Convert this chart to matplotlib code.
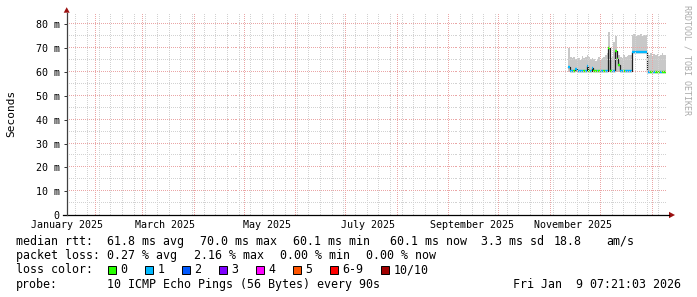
import matplotlib
matplotlib.use('Agg')
import matplotlib.pyplot as plt
import matplotlib.dates as mdates
import numpy as np
from matplotlib.ticker import MultipleLocator, FuncFormatter, NullFormatter
from matplotlib.patches import Rectangle, Polygon
from matplotlib.lines import Line2D
from datetime import datetime, timedelta

W, H = 697, 297
MONO = 'DejaVu Sans Mono'

# Daten: ein Wert pro Tag ab 12.11.2025 (Millisekunden)
first_day = datetime(2025, 11, 12)
graph_end = datetime(2026, 1, 9, 7, 21, 3)
graph_start = datetime(2025, 1, 14, 18, 0)

median_ms = [62.0, 60.3, 60.3, 60.3, 61.5, 60.3, 60.3, 60.3, 60.3, 60.3,
             60.3, 62.5, 60.3, 60.3, 61.8, 60.3, 60.3, 60.3, 60.3, 60.3,
             60.3, 60.3, 60.3, 60.3, 70.0, 60.3, 60.3, 60.3, 68.8, 65.5,
             63.0, 60.3, 60.3, 60.3, 60.3, 60.3, 60.3, 60.3,
             68.6, 68.6, 68.6, 68.6, 68.6, 68.6, 68.6, 68.6, 68.6,
             60.2, 60.2, 60.2, 60.2, 60.2, 60.2, 60.2, 60.2, 60.2, 60.2, 60.2]
loss_cnt = [1, 1, 1, 0, 1, 1, 1, 1, 1, 0,
            1, 1, 0, 1, 1, 0, 0, 1, 0, 1,
            1, 0, 1, 1, 0, 0, 1, 1, 0, 0,
            0, 1, 1, 0, 1, 1, 1, 1,
            1, 1, 1, 1, 1, 1, 1, 1, 1,
            1, 1, 0, 0, 1, 0, 0, 0, 1, 0, 0]
smoke_hi = [70.0, 66.5, 65.8, 66.2, 65.5, 65.0, 66.0, 65.2, 66.8, 65.8,
            66.2, 67.0, 66.4, 65.5, 66.0, 65.3, 64.8, 65.6, 66.5, 65.2,
            65.8, 66.3, 67.0, 68.0, 77.0, 66.0, 66.5, 72.5, 75.0, 69.0,
            67.0, 66.5, 66.0, 67.0, 66.2, 66.8, 67.2, 67.0,
            75.5, 75.8, 75.2, 75.6, 75.4, 75.8, 75.3, 75.5, 75.6,
            67.5, 67.2, 67.8, 66.8, 67.4, 67.0, 67.6, 66.9, 67.3, 67.8, 67.1]
smoke_lo = [59.9] * 38 + [68.2] * 9 + [59.9] * 11

loss_labels = ['0', '1', '2', '3', '4', '5', '6-9', '10/10']
loss_colors = ['#26ff00', '#00b8ff', '#0059ff', '#7e00ff', '#ff00ff',
               '#ff5500', '#ff0000', '#a10000']

month_labels = ['January 2025', 'March 2025', 'May 2025', 'July 2025',
                'September 2025', 'November 2025']
month_label_dates = [datetime(2025, m, 15) for m in (1, 3, 5, 7, 9, 11)]

rtt_vals = [61.8, 70.0, 60.1, 60.1]
loss_pct = [0.27, 2.16, 0.00, 0.00]
stat_names = ['avg', 'max', 'min', 'now']
rtt_sd = 3.3
am_s = 18.8
probe_text = '10 ICMP Echo Pings (56 Bytes) every 90s'
stamp_text = 'Fri Jan  9 07:21:03 2026'


def fx(x):
    return x / W


def fy(y):
    return 1 - y / H


fig = plt.figure(figsize=(W / 100, H / 100), dpi=100)
ax_l, ax_r, ax_b, ax_t = 66.5, 665.5, 215, 13
ax = fig.add_axes([fx(ax_l), fy(ax_b), (ax_r - ax_l) / W, (ax_b - ax_t) / H])

edges = [first_day + timedelta(days=i) for i in range(len(median_ms))] + [graph_end]

# Rauch (Streuung der Pings)
ax.fill_between(edges, smoke_lo + smoke_lo[-1:], smoke_hi + smoke_hi[-1:],
                step='post', color='#c8c8c8', lw=0)
# Median: schwarze Linie, darüber Farbband nach Verlust
ax.step(edges, median_ms + median_ms[-1:], where='post', color='#202020', lw=0.9)
ax.hlines(median_ms, edges[:-1], edges[1:],
          colors=[loss_colors[l] for l in loss_cnt], lw=1.7)

ax.set_xlim(graph_start, graph_end)
ax.set_ylim(0, 84.8)

ax.xaxis.set_major_locator(mdates.MonthLocator(bymonthday=1))
ax.xaxis.set_minor_locator(mdates.WeekdayLocator(byweekday=mdates.MO))
ax.xaxis.set_major_formatter(NullFormatter())
ax.yaxis.set_major_locator(MultipleLocator(10))
ax.yaxis.set_minor_locator(MultipleLocator(5))
ax.yaxis.set_major_formatter(FuncFormatter(lambda v, p: '0' if v == 0 else f'{v:.0f} m'))

# gepunktetes Gitter wie bei rrdtool (jedes zweite Pixel)
wpx, hpx = ax_r - ax_l, ax_b - ax_t
ys_dots = np.arange(0, hpx, 2) / hpx
xs_dots = np.arange(0, wpx, 2) / wpx
xt = ax.get_xaxis_transform()
yt = ax.get_yaxis_transform()


def dotted_grid(xlocs, ylocs, color):
    for v in xlocs:
        ax.plot(np.full(len(ys_dots), v), ys_dots, ls='none', marker=',',
                color=color, transform=xt, zorder=3)
    for v in ylocs:
        if v <= 0:
            continue
        ax.plot(xs_dots, np.full(len(xs_dots), v), ls='none', marker=',',
                color=color, transform=yt, zorder=3)


dotted_grid(ax.xaxis.get_minorticklocs(), ax.yaxis.get_minorticklocs(), '#d2d2d2')
dotted_grid(ax.xaxis.get_majorticklocs(), ax.yaxis.get_majorticklocs(), '#eaa6a6')

ax.tick_params(axis='x', which='both', length=0)
ax.tick_params(axis='y', which='minor', length=0)
ax.tick_params(axis='y', which='major', length=2.5, width=0.7, color='#333333',
               pad=2.4, labelsize=7.2)
for lab in ax.get_yticklabels():
    lab.set_family(MONO)
for s in ax.spines.values():
    s.set_visible(False)

for d, name in zip(month_label_dates, month_labels):
    ax.text(d, -(227.5 - ax_b) / hpx, name, transform=xt,
            ha='center', va='baseline', fontsize=7.2, family=MONO)

# Achsen mit Pfeilen
fig.add_artist(Line2D([fx(62.7), fx(669)], [fy(215), fy(215)], color='black', lw=0.9))
fig.add_artist(Line2D([fx(66.7), fx(66.7)], [fy(215), fy(12.5)], color='#404040', lw=0.9))
fig.add_artist(Polygon([(fx(669), fy(211.8)), (fx(669), fy(218.2)), (fx(675), fy(215))],
                       closed=True, color='#9b1010', lw=0))
fig.add_artist(Polygon([(fx(63.7), fy(12.7)), (fx(69.7), fy(12.7)), (fx(66.7), fy(7.2))],
                       closed=True, color='#9b1010', lw=0))

fig.text(fx(11), fy(113), 'Seconds', rotation=90, ha='center', va='center',
         fontsize=8, family=MONO)
fig.text(fx(687), fy(5), 'RRDTOOL / TOBI OETIKER', rotation=270, ha='center', va='top',
         fontsize=6, family=MONO, color='#aaaaaa')

# Legende
fs = 8.4
base = [245, 259.2, 273.4, 287.6]
fig.text(fx(16), fy(base[0]), 'median rtt:', fontsize=fs, family=MONO, va='baseline')
for x, v, n in zip([107.3, 200, 292.7, 390], rtt_vals, stat_names):
    fig.text(fx(x), fy(base[0]), f'{v:.1f} ms {n}', fontsize=fs, family=MONO, va='baseline')
fig.text(fx(481), fy(base[0]), f'{rtt_sd:.1f} ms sd', fontsize=fs, family=MONO, va='baseline')
fig.text(fx(554), fy(base[0]), f'{am_s:.1f}', fontsize=fs, family=MONO, va='baseline')
fig.text(fx(606.7), fy(base[0]), 'am/s', fontsize=fs, family=MONO, va='baseline')

fig.text(fx(16), fy(base[1]), 'packet loss:', fontsize=fs, family=MONO, va='baseline')
for x, v, n in zip([107.3, 194, 280, 365.7], loss_pct, stat_names):
    fig.text(fx(x), fy(base[1]), f'{v:.2f} % {n}', fontsize=fs, family=MONO, va='baseline')

fig.text(fx(16), fy(base[2]), 'loss color:', fontsize=fs, family=MONO, va='baseline')
bx = 108.0
for lab, col in zip(loss_labels, loss_colors):
    fig.add_artist(Rectangle((fx(bx), fy(273.5)), 8 / W, 8 / H, facecolor=col,
                             edgecolor='black', lw=0.7))
    fig.text(fx(bx + 12.5), fy(base[2]), lab, fontsize=fs, family=MONO, va='baseline')
    bx += 12.5 + len(lab) * 7.02 + 17.5

fig.text(fx(16), fy(base[3]), 'probe:', fontsize=fs, family=MONO, va='baseline')
fig.text(fx(107.3), fy(base[3]), probe_text, fontsize=fs, family=MONO, va='baseline')
fig.text(fx(681), fy(base[3]), stamp_text, fontsize=fs, family=MONO, va='baseline', ha='right')

fig.savefig('out.png', dpi=100)
